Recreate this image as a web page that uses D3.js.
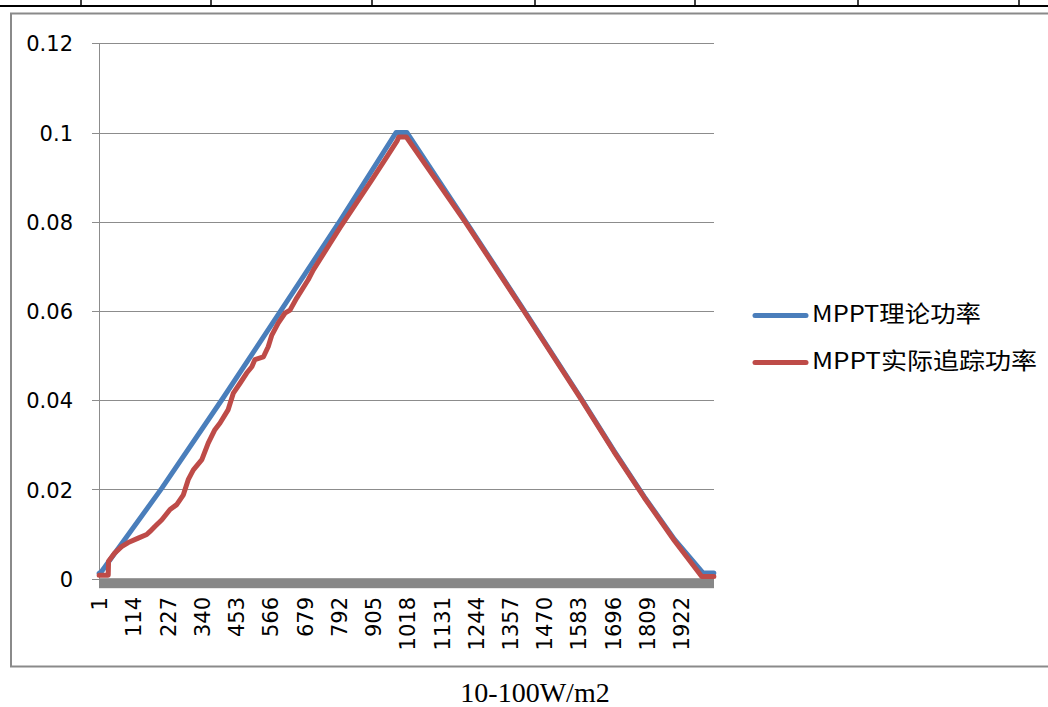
<!DOCTYPE html>
<html>
<head>
<meta charset="utf-8">
<script src="https://cdn.jsdelivr.net/npm/d3@7"></script>
<style>
  html, body { margin: 0; padding: 0; background: #fff; }
  svg { display: block; }
</style>
</head>
<body>
<svg id="chart" width="1048" height="707"></svg>
<script>
// ---------------- data ----------------
const categoryCount = 2030;
const xTickLabels = [1, 114, 227, 340, 453, 566, 679, 792, 905, 1018, 1131, 1244, 1357, 1470, 1583, 1696, 1809, 1922];
const yTickValues = [0, 0.02, 0.04, 0.06, 0.08, 0.1, 0.12];
const yTickLabels = ["0", "0.02", "0.04", "0.06", "0.08", "0.1", "0.12"];
const seriesNames = ["MPPT理论功率", "MPPT实际追踪功率"];
const xTitle = "10-100W/m2";

// theoretical MPPT power (category index, value)
const theoryIndex = [1, 9, 208, 410, 604, 796, 981, 1017, 1212, 1403, 1591, 1700, 1800, 1900, 1994, 2030];
const theoryValue = [0.0012, 0.0016, 0.0203, 0.0405, 0.0604, 0.0802, 0.1, 0.1, 0.08, 0.0602, 0.0405, 0.0287, 0.0184, 0.0088, 0.0013, 0.0013];

// actual tracked MPPT power
const actualIndex = [1, 31, 32, 53, 75, 97, 130, 158, 169, 185, 208, 235, 257, 279, 295, 312, 340, 361, 383, 400, 427, 444, 466, 488, 505, 515, 543, 559, 571, 592, 614, 631, 653, 691, 708, 760, 796, 850, 900, 950, 985, 990, 1015, 1212, 1403, 1591, 1700, 1800, 1900, 1990, 2030];
const actualValue = [0.0008, 0.0008, 0.0039, 0.0058, 0.0072, 0.0081, 0.0091, 0.0099, 0.0106, 0.0117, 0.0132, 0.0155, 0.0166, 0.0188, 0.0222, 0.0244, 0.0267, 0.0304, 0.0334, 0.0349, 0.0379, 0.0416, 0.0438, 0.0461, 0.0475, 0.0491, 0.0497, 0.052, 0.0546, 0.0573, 0.0595, 0.0602, 0.0629, 0.067, 0.0692, 0.0748, 0.0787, 0.0842, 0.0893, 0.0945, 0.0982, 0.099, 0.099, 0.0797, 0.06, 0.0403, 0.0285, 0.0182, 0.0085, 0.0005, 0.0005];

const seriesColors = ["#4A7EBB", "#BE4B48"];

// ---------------- drawing ----------------
const svg = d3.select("#chart");

// table lines at the top of the page
svg.append("rect").attr("x", 0).attr("y", 5).attr("width", 1048).attr("height", 2).attr("fill", "#000");
[81, 211, 372, 535, 695, 858, 1019].forEach(x => {
  svg.append("rect").attr("x", x - 0.75).attr("y", 0).attr("width", 1.5).attr("height", 6).attr("fill", "#000");
});

// chart frame
svg.append("rect")
  .attr("x", 11).attr("y", 13.5).attr("width", 1100).attr("height", 653)
  .attr("fill", "#fff").attr("stroke", "#8a8a8a").attr("stroke-width", 2);

const plotLeft = 99, plotRight = 714, plotTop = 43.3, plotBottom = 578.7;

const x = d3.scaleLinear().domain([0.5, categoryCount + 0.5]).range([plotLeft, plotRight]);
const y = d3.scaleLinear().domain([0, 0.12]).range([plotBottom, plotTop]);

// gridlines
const grid = svg.append("g");
yTickValues.forEach(v => {
  grid.append("line")
    .attr("x1", plotLeft - 7).attr("x2", plotRight)
    .attr("y1", Math.round(y(v)) + 0.5).attr("y2", Math.round(y(v)) + 0.5)
    .attr("stroke", "#8c8c8c").attr("stroke-width", 1);
});

// y axis line
svg.append("line")
  .attr("x1", plotLeft + 0.5).attr("x2", plotLeft + 0.5)
  .attr("y1", y(0.12)).attr("y2", plotBottom)
  .attr("stroke", "#8c8c8c").attr("stroke-width", 1);

// y tick labels
const yAxis = d3.axisLeft(y).tickValues(yTickValues).tickSize(0).tickPadding(0)
  .tickFormat((d, i) => yTickLabels[i]);
const yg = svg.append("g").attr("transform", `translate(73,0)`).call(yAxis);
yg.select(".domain").remove();
yg.selectAll("text")
  .attr("font-family", "DejaVu Sans, sans-serif")
  .attr("font-size", 21)
  .attr("fill", "#000")
  .attr("x", 0).attr("dy", "0.36em");

// thick x axis band
svg.append("rect")
  .attr("x", plotLeft).attr("y", plotBottom - 0.5)
  .attr("width", plotRight - plotLeft).attr("height", 10)
  .attr("fill", "#878787");

// x tick labels (rotated)
const xAxis = d3.axisBottom(x).tickValues(xTickLabels).tickSize(0).tickPadding(0).tickFormat(d => String(d));
const xg = svg.append("g").attr("transform", `translate(0,597)`).call(xAxis);
xg.select(".domain").remove();
xg.selectAll("text")
  .attr("font-family", "DejaVu Sans, sans-serif")
  .attr("font-size", 21)
  .attr("fill", "#000")
  .attr("text-anchor", "end")
  .attr("transform", "rotate(-90)")
  .attr("x", 0).attr("y", 0).attr("dy", "0.36em");

// series lines
const line = d3.line().x(d => x(d[0])).y(d => y(d[1]));
const theory = theoryIndex.map((d, i) => [d, theoryValue[i]]);
const actual = actualIndex.map((d, i) => [d, actualValue[i]]);
[theory, actual].forEach((data, k) => {
  svg.append("path")
    .datum(data)
    .attr("d", line)
    .attr("fill", "none")
    .attr("stroke", seriesColors[k])
    .attr("stroke-width", 5)
    .attr("stroke-linejoin", "round")
    .attr("stroke-linecap", "round");
});

// legend
const legendY = [315.5, 362.5];
const legendWidths = [169, 225];
seriesNames.forEach((name, k) => {
  svg.append("line")
    .attr("x1", 755).attr("x2", 806)
    .attr("y1", legendY[k]).attr("y2", legendY[k])
    .attr("stroke", seriesColors[k]).attr("stroke-width", 5)
    .attr("stroke-linecap", "round");
  svg.append("text")
    .attr("x", 812).attr("y", legendY[k] - 2)
    .attr("dy", "0.36em")
    .attr("font-family", "'Noto Sans CJK SC', 'Noto Sans', sans-serif")
    .attr("font-size", 23)
    .attr("fill", "#000")
    .attr("textLength", legendWidths[k])
    .attr("lengthAdjust", "spacingAndGlyphs")
    .text(name);
});

// caption
svg.append("text")
  .attr("x", 535).attr("y", 702)
  .attr("text-anchor", "middle")
  .attr("font-family", "'Liberation Serif', 'Times New Roman', serif")
  .attr("font-size", 28)
  .attr("fill", "#000")
  .text(xTitle);
</script>
</body>
</html>
